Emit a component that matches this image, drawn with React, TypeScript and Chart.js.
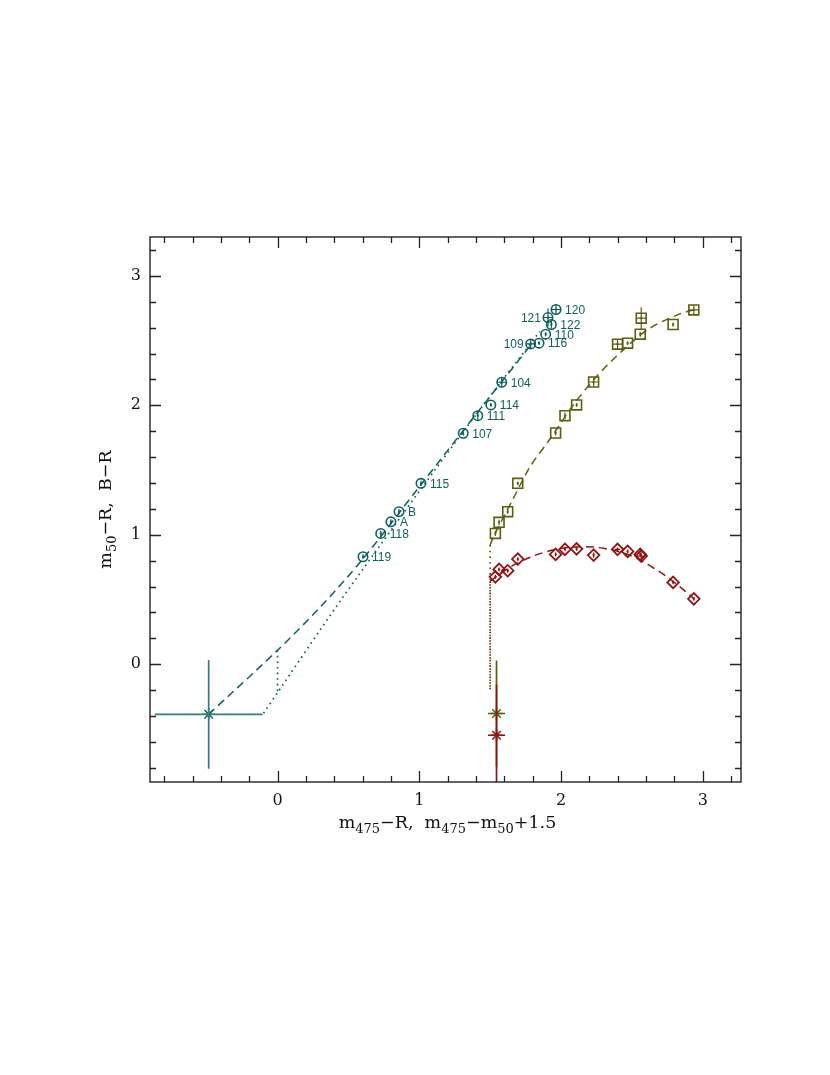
import React, { useEffect, useRef } from 'react';
import { Chart, registerables } from 'chart.js';

Chart.register(...registerables);

// ---- axis ranges / ticks ----
const X_MIN = -0.9;
const X_MAX = 3.27;
const Y_MIN = -0.91;
const Y_MAX = 3.3;

// ---- teal circles: m475-R vs m50-R ----
const tealNames = ['119', '118', 'A', 'B', '115', '107', '111', '114', '104', '109', '116', '110', '122', '121', '120'];
const tealLabelLeft = [false, false, false, false, false, false, false, false, false, true, false, false, false, true, false];
const tealX = [0.603, 0.728, 0.8, 0.857, 1.012, 1.31, 1.413, 1.505, 1.582, 1.786, 1.845, 1.892, 1.932, 1.908, 1.965];
const tealY = [0.83, 1.01, 1.1, 1.178, 1.397, 1.784, 1.92, 2.003, 2.178, 2.474, 2.48, 2.549, 2.624, 2.678, 2.74];
const tealXErr = [0, 0, 0, 0, 0, 0, 0, 0, 0.03, 0.03, 0, 0, 0, 0.03, 0.03];
const tealYErr = [0.02, 0.02, 0.02, 0.02, 0.02, 0.02, 0.03, 0.015, 0.035, 0.035, 0.015, 0.015, 0.03, 0.07, 0.04];

// ---- olive squares: m475-m50+1.5 vs m50-R ----
const oliveX = [1.537, 1.563, 1.624, 1.695, 1.962, 2.028, 2.11, 2.23, 2.399, 2.47, 2.559, 2.791, 2.566, 2.937];
const oliveY = [1.01, 1.096, 1.178, 1.397, 1.786, 1.92, 2.003, 2.18, 2.472, 2.48, 2.549, 2.624, 2.673, 2.737];
const oliveXErr = [0, 0, 0, 0, 0, 0, 0, 0.03, 0.035, 0, 0, 0, 0.035, 0.035];
const oliveYErr = [0.02, 0.02, 0.015, 0.015, 0.02, 0.025, 0.015, 0.035, 0.035, 0.015, 0.02, 0.015, 0.085, 0.035];

// ---- red diamonds: m475-m50+1.5 vs B-R ----
const redX = oliveX;
const redY = [0.675, 0.732, 0.722, 0.812, 0.848, 0.887, 0.891, 0.843, 0.887, 0.871, 0.848, 0.632, 0.835, 0.505];
const redXErr = [0, 0, 0, 0, 0, 0, 0, 0, 0.02, 0, 0, 0, 0.03, 0];
const redYErr = [0.015, 0.015, 0.015, 0.015, 0.015, 0.015, 0.015, 0.02, 0.015, 0.015, 0.015, 0.015, 0.03, 0.015];

// ---- fitted curves ----
const tealDashX = [-0.486, 0.0, 0.3, 0.6, 1.0, 1.4, 1.79];
const tealDashY = [-0.387, 0.108, 0.44, 0.81, 1.37, 1.93, 2.47];
const tealDotX = [-0.099, 0.45, 1.265, 1.85];
const tealDotY = [-0.379, 0.5, 1.73, 2.57];
const tealVDotX = [0.0, 0.0];
const tealVDotY = [0.108, -0.229];

const oliveDashX = [1.5, 1.523, 1.664, 1.782, 1.934, 2.087, 2.251, 2.439, 2.627, 2.838, 2.937];
const oliveDashY = [0.92, 0.984, 1.281, 1.526, 1.757, 2.003, 2.222, 2.428, 2.596, 2.706, 2.737];
const oliveVDotX = [1.5, 1.5];
const oliveVDotY = [0.92, -0.2];

const redDashX = [1.5, 1.6, 1.7, 1.9, 2.1, 2.3, 2.5, 2.65, 2.79, 2.94];
const redDashY = [0.64, 0.72, 0.785, 0.87, 0.905, 0.895, 0.835, 0.745, 0.64, 0.505];
const redVDotX = [1.5, 1.5];
const redVDotY = [0.64, -0.2];

// ---- mean points with error crosses ----
const tealStar = { x: -0.486, y: -0.387, ex: 0.38, ey: 0.42 };
const oliveStar = { x: 1.545, y: -0.381, ex: 0.06, ey: 0.41 };
const redStar = { x: 1.545, y: -0.549, ex: 0.06, ey: 0.39 };

const TEAL = '#0f5e5d';
const TEAL_LIGHT = '#3b7b7b';
const OLIVE = '#5c5c12';
const RED = '#8f1515';

const pts = (xs: number[], ys: number[]) => xs.map((x, i) => ({ x, y: ys[i] }));

type Part = { t: string; sub?: boolean };
const xTitle: Part[] = [
  { t: 'm' }, { t: '475', sub: true }, { t: '\u2212R,  m' }, { t: '475', sub: true },
  { t: '\u2212m' }, { t: '50', sub: true }, { t: '+1.5' },
];
const yTitle: Part[] = [{ t: 'm' }, { t: '50', sub: true }, { t: '\u2212R,  B\u2212R' }];

function drawRich(ctx: CanvasRenderingContext2D, parts: Part[], cx: number, baseY: number, size: number) {
  const fam = '"DejaVu Serif", serif';
  const subSize = Math.round(size * 0.72);
  let total = 0;
  for (const p of parts) {
    ctx.font = `${p.sub ? subSize : size}px ${fam}`;
    total += ctx.measureText(p.t).width;
  }
  let x = cx - total / 2;
  ctx.textAlign = 'left';
  ctx.textBaseline = 'alphabetic';
  for (const p of parts) {
    ctx.font = `${p.sub ? subSize : size}px ${fam}`;
    ctx.fillText(p.t, x, baseY + (p.sub ? size * 0.28 : 0));
    x += ctx.measureText(p.t).width;
  }
}

const framePlugin = {
  id: 'framePlugin',
  afterDatasetsDraw(chart: any) {
    const { ctx, chartArea: a, scales } = chart;
    const xs = scales.x;
    const ys = scales.y;

    // error bars / centre marks
    ctx.save();
    ctx.beginPath();
    ctx.rect(a.left, a.top, a.right - a.left, a.bottom - a.top);
    ctx.clip();
    chart.data.datasets.forEach((ds: any, di: number) => {
      if (!ds.errX && !ds.errY) return;
      const meta = chart.getDatasetMeta(di);
      if (meta.hidden) return;
      ctx.strokeStyle = ds.errColor || ds.borderColor;
      ctx.lineWidth = ds.errWidth || 1;
      ds.data.forEach((d: any, i: number) => {
        const px = xs.getPixelForValue(d.x);
        const py = ys.getPixelForValue(d.y);
        const ex = ds.errX ? ds.errX[i] : 0;
        const ey = ds.errY ? ds.errY[i] : 0;
        ctx.beginPath();
        if (ex > 0) {
          ctx.moveTo(xs.getPixelForValue(d.x - ex), py);
          ctx.lineTo(xs.getPixelForValue(d.x + ex), py);
        }
        if (ey > 0) {
          ctx.moveTo(px, ys.getPixelForValue(d.y - ey));
          ctx.lineTo(px, ys.getPixelForValue(d.y + ey));
        }
        ctx.stroke();
        if (ds.centerDot) {
          ctx.fillStyle = ds.errColor || ds.borderColor;
          ctx.fillRect(px - 1, py - 1, 2, 2);
        }
      });
    });
    ctx.restore();

    // point labels for the teal set
    ctx.save();
    ctx.fillStyle = TEAL;
    ctx.font = '12px "Liberation Sans", sans-serif';
    ctx.textBaseline = 'middle';
    tealNames.forEach((n, i) => {
      const px = xs.getPixelForValue(tealX[i]);
      const py = ys.getPixelForValue(tealY[i]);
      if (tealLabelLeft[i]) {
        ctx.textAlign = 'right';
        ctx.fillText(n, px - 7, py + 1);
      } else {
        ctx.textAlign = 'left';
        ctx.fillText(n, px + 9, py + 1);
      }
    });
    ctx.restore();
  },
  afterDraw(chart: any) {
    const { ctx, chartArea: a, scales } = chart;
    const xs = scales.x;
    const ys = scales.y;
    ctx.save();
    ctx.strokeStyle = '#222';
    ctx.lineWidth = 1.4;
    ctx.strokeRect(a.left, a.top, a.right - a.left, a.bottom - a.top);
    ctx.lineWidth = 1.3;
    ctx.beginPath();
    for (let i = -5; i <= 17; i++) {
      const v = i * 0.2;
      if (v <= X_MIN || v >= X_MAX) continue;
      const len = i % 5 === 0 ? 11 : 6;
      const p = Math.round(xs.getPixelForValue(v)) + 0.5;
      ctx.moveTo(p, a.bottom);
      ctx.lineTo(p, a.bottom - len);
      ctx.moveTo(p, a.top);
      ctx.lineTo(p, a.top + len);
    }
    for (let i = -5; i <= 17; i++) {
      const v = i * 0.2;
      if (v <= Y_MIN || v >= Y_MAX) continue;
      const len = i % 5 === 0 ? 11 : 6;
      const p = Math.round(ys.getPixelForValue(v)) + 0.5;
      ctx.moveTo(a.left, p);
      ctx.lineTo(a.left + len, p);
      ctx.moveTo(a.right, p);
      ctx.lineTo(a.right - len, p);
    }
    ctx.stroke();

    // axis titles
    ctx.fillStyle = '#111';
    drawRich(ctx, xTitle, (a.left + a.right) / 2 + 2, 828, 17.5);
    ctx.save();
    ctx.translate(111, (a.top + a.bottom) / 2);
    ctx.rotate(-Math.PI / 2);
    drawRich(ctx, yTitle, 0, 0, 17.5);
    ctx.restore();
    ctx.restore();
  },
};

export default function App() {
  const ref = useRef<HTMLCanvasElement | null>(null);
  useEffect(() => {
    if (!ref.current) return;
    const line = (xs: number[], ys: number[], color: string, dash: number[], width: number, tension = 0) => ({
      data: pts(xs, ys),
      showLine: true,
      borderColor: color,
      borderWidth: width,
      borderDash: dash,
      pointRadius: 0,
      pointHoverRadius: 0,
      tension,
      fill: false,
    });
    const chart = new Chart(ref.current, {
      type: 'scatter',
      data: {
        datasets: [
          line(tealDashX, tealDashY, TEAL, [8, 5], 1.5, 0.3),
          line(tealDotX, tealDotY, TEAL, [1.6, 4], 1.7, 0.3),
          line(tealVDotX, tealVDotY, TEAL, [1.6, 4], 1.7),
          line(oliveVDotX, oliveVDotY, OLIVE, [1.6, 4], 1.7),
          line(redVDotX, redVDotY, RED, [1.6, 4], 1.7),
          line(oliveDashX, oliveDashY, OLIVE, [8, 5], 1.5, 0.3),
          line(redDashX, redDashY, RED, [8, 5], 1.5, 0.4),
          {
            data: pts(tealX, tealY),
            pointStyle: 'circle',
            pointRadius: 4.7,
            borderColor: TEAL,
            backgroundColor: 'rgba(255,255,255,0)',
            borderWidth: 1.6,
            errX: tealXErr,
            errY: tealYErr,
            errColor: TEAL,
            errWidth: 1.2,
            centerDot: true,
          } as any,
          {
            data: pts(oliveX, oliveY),
            pointStyle: 'rect',
            pointRadius: 7,
            borderColor: OLIVE,
            backgroundColor: 'rgba(255,255,255,0)',
            borderWidth: 1.6,
            errX: oliveXErr,
            errY: oliveYErr,
            errColor: OLIVE,
            errWidth: 1.2,
            centerDot: true,
          } as any,
          {
            data: pts(redX, redY),
            pointStyle: 'rectRot',
            pointRadius: 5.8,
            borderColor: RED,
            backgroundColor: 'rgba(255,255,255,0)',
            borderWidth: 1.8,
            errX: redXErr,
            errY: redYErr,
            errColor: RED,
            errWidth: 1.2,
            centerDot: true,
          } as any,
          {
            data: [{ x: tealStar.x, y: tealStar.y }],
            pointStyle: 'star',
            pointRadius: 6,
            borderColor: TEAL,
            borderWidth: 1.5,
            errX: [tealStar.ex],
            errY: [tealStar.ey],
            errColor: TEAL_LIGHT,
            errWidth: 1.7,
          } as any,
          {
            data: [{ x: oliveStar.x, y: oliveStar.y }],
            pointStyle: 'star',
            pointRadius: 6,
            borderColor: OLIVE,
            borderWidth: 1.5,
            errX: [oliveStar.ex],
            errY: [oliveStar.ey],
            errColor: OLIVE,
            errWidth: 1.7,
          } as any,
          {
            data: [{ x: redStar.x, y: redStar.y }],
            pointStyle: 'star',
            pointRadius: 6,
            borderColor: RED,
            borderWidth: 1.5,
            errX: [redStar.ex],
            errY: [redStar.ey],
            errColor: RED,
            errWidth: 1.7,
          } as any,
        ],
      },
      options: {
        animation: false,
        responsive: false,
        devicePixelRatio: 1,
        layout: { padding: { top: 237, right: 89, left: 0, bottom: 0 } },
        plugins: { legend: { display: false }, tooltip: { enabled: false } },
        events: [],
        scales: {
          x: {
            type: 'linear',
            position: 'bottom',
            min: X_MIN,
            max: X_MAX,
            grid: { display: false, drawTicks: false },
            border: { display: false },
            ticks: {
              stepSize: 1,
              includeBounds: false,
              padding: 9,
              color: '#111',
              font: { family: '"DejaVu Serif", serif', size: 16 },
              callback: (v: any) => (Number.isInteger(v) ? String(v) : ''),
            },
            afterFit: (s: any) => { s.height = 293; },
          },
          y: {
            type: 'linear',
            position: 'left',
            min: Y_MIN,
            max: Y_MAX,
            grid: { display: false, drawTicks: false },
            border: { display: false },
            ticks: {
              stepSize: 1,
              includeBounds: false,
              padding: 9,
              color: '#111',
              font: { family: '"DejaVu Serif", serif', size: 16 },
              callback: (v: any) => (Number.isInteger(v) ? String(v) : ''),
            },
            afterFit: (s: any) => { s.width = 150; },
          },
        },
      } as any,
      plugins: [framePlugin],
    });
    return () => chart.destroy();
  }, []);
  return (
    <div style={{ position: 'absolute', left: 0, top: 0, width: 830, height: 1075, background: '#fff' }}>
      <canvas ref={ref} width={830} height={1075} style={{ width: 830, height: 1075, display: 'block' }} />
    </div>
  );
}
